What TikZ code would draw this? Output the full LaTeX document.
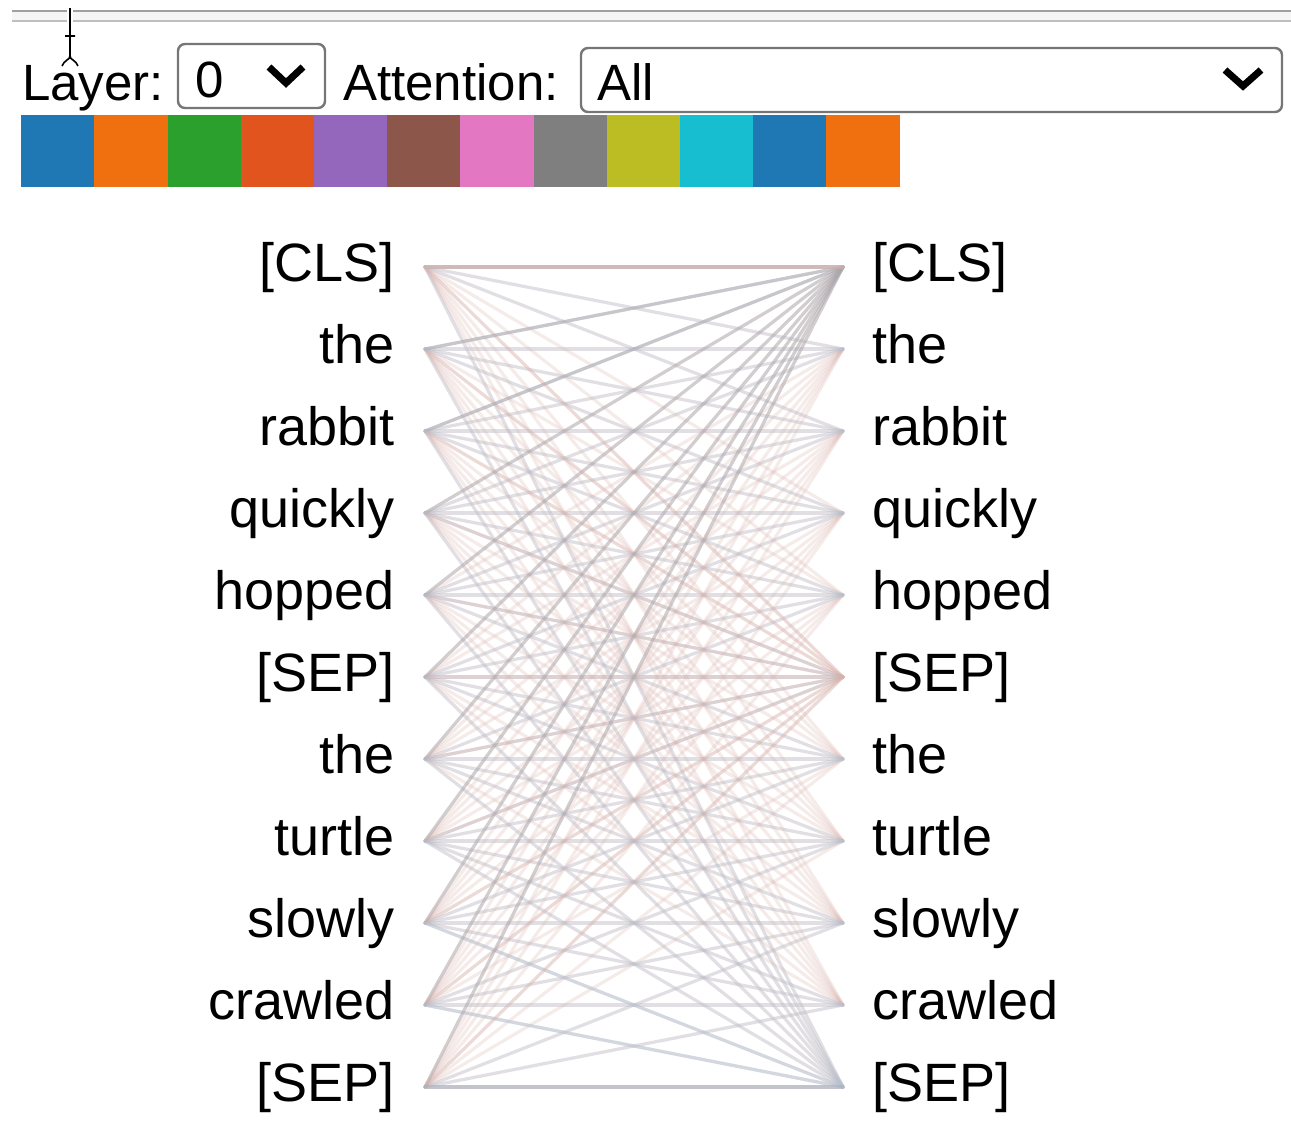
\documentclass[tikz,border=0pt]{standalone}
\usepackage{fontspec}
\setmainfont{Liberation Sans}
\usetikzlibrary{positioning}
\newcommand{\RowTop}{267}
\newcommand{\RowStep}{82}
\newcommand{\Lx}{425}
\newcommand{\Rx}{843}
\newcommand{\BigFont}{\fontsize{51}{60}\selectfont}
\newcommand{\TokFont}{\fontsize{54}{62}\selectfont}
\definecolor{headblue}{HTML}{1F77B4}
\definecolor{headorange}{HTML}{F0700F}
\definecolor{headgreen}{HTML}{2CA02C}
\definecolor{headred}{HTML}{E2541E}
\definecolor{headpurple}{HTML}{9467BD}
\definecolor{headbrown}{HTML}{8C564B}
\definecolor{headpink}{HTML}{E377C2}
\definecolor{headgray}{HTML}{7F7F7F}
\definecolor{headolive}{HTML}{BCBD22}
\definecolor{headcyan}{HTML}{17BECF}
\definecolor{selgray}{HTML}{767676}
\definecolor{attnpink}{HTML}{D8B2AC}
\definecolor{attnblue}{HTML}{B4C4D4}
\definecolor{attngray}{HTML}{A8A8AE}
\tikzstyle{tok} = [inner sep=0pt, text height=39pt, text depth=11pt, font=\TokFont]
\tikzstyle{attn} = [line width=3.2pt, line cap=round]
\tikzstyle{dropbox} = [draw=selgray, line width=2.4pt, rounded corners=7pt]
\tikzstyle{chev} = [line width=7pt, line join=miter]

\begin{document}
\begin{tikzpicture}[x=1pt, y=-1pt, headbox/.style={minimum width=73.2pt, minimum height=72pt, inner sep=0pt, anchor=north west}]
\useasboundingbox (0,0) rectangle (1291,1144);

% Top rule and cursor
\fill[gray!8] (12,11) rectangle (1291,21);
\draw[gray!75, line width=2pt] (12,11) -- (1291,11);
\draw[gray!50, line width=2.6pt] (12,21) -- (1291,21);
\draw[white, line width=6pt] (70,8) -- (70,58);
\draw[line width=1.6pt] (70,8) -- (70,58) (65,36) -- (75,36)
  (62,66) .. controls (64,60) and (70,60) .. (70,56) .. controls (70,60) and (76,60) .. (78,66);

% Selectors
\node[anchor=base west, inner sep=0pt, font=\BigFont] (layer) at (22,100) {Layer:};
\draw[dropbox] (178,44) rectangle (325,108);
\node[anchor=base west, inner sep=0pt, font=\BigFont] (lnum) at (195,97) {0};
\draw[chev] (269,67) -- (286,83) -- (303,67);
\node[anchor=base west, inner sep=0pt, font=\BigFont] (attlab) at (343,100) {Attention:};
\draw[dropbox] (581,48) rectangle (1282,112);
\node[anchor=base west, inner sep=0pt, font=\BigFont] (attsel) at (597,100) {All};
\draw[chev] (1225,70) -- (1243,86) -- (1261,70);

% Head colours
\foreach \c [count=\h from 0] in {headblue, headorange, headgreen, headred, headpurple, headbrown,
                                   headpink, headgray, headolive, headcyan, headblue, headorange}
  \node[headbox, fill=\c] (h\h) at (21+73.2*\h,115) {};

% Define nodes
\foreach \w [count=\i from 0] in {{[CLS]}, the, rabbit, quickly, hopped, {[SEP]},
                                   the, turtle, slowly, crawled, {[SEP]}}{
  \coordinate (L\i) at (\Lx, \RowTop+\RowStep*\i);
  \coordinate (R\i) at (\Rx, \RowTop+\RowStep*\i);
  \node[tok, left  = 30pt of L\i] (l\i) {\w};
  \node[tok, right = 29pt of R\i] (r\i) {\w};
}

% Edges
\foreach \i in {0,...,10}
  \foreach \j in {0,...,10}
    \draw[attn, attnpink, opacity=.25] (L\i) -- (R\j);%
\foreach \i in {0,...,10}
  \foreach \d in {-2,...,2}{
    \pgfmathtruncatemacro{\j}{\i+\d}
    \ifnum\j<0 \else\ifnum\j>10 \else
      \draw[attn, attnblue, opacity=.3] (L\i) -- (R\j);%
    \fi\fi
  }
\foreach \i in {0,...,10}{
  \draw[attn, attngray, opacity=.45] (L\i) -- (R0);%
  \draw[attn, attnpink, opacity=.3]  (L\i) -- (R5);%
  \draw[attn, attnblue, opacity=.3]  (L\i) -- (R10);%
}
\draw[attn, attnpink, opacity=.55] (L0) -- (R0);%
\draw[attn, attngray, opacity=.4] (L10) -- (R10);%

\end{tikzpicture}
\end{document}
